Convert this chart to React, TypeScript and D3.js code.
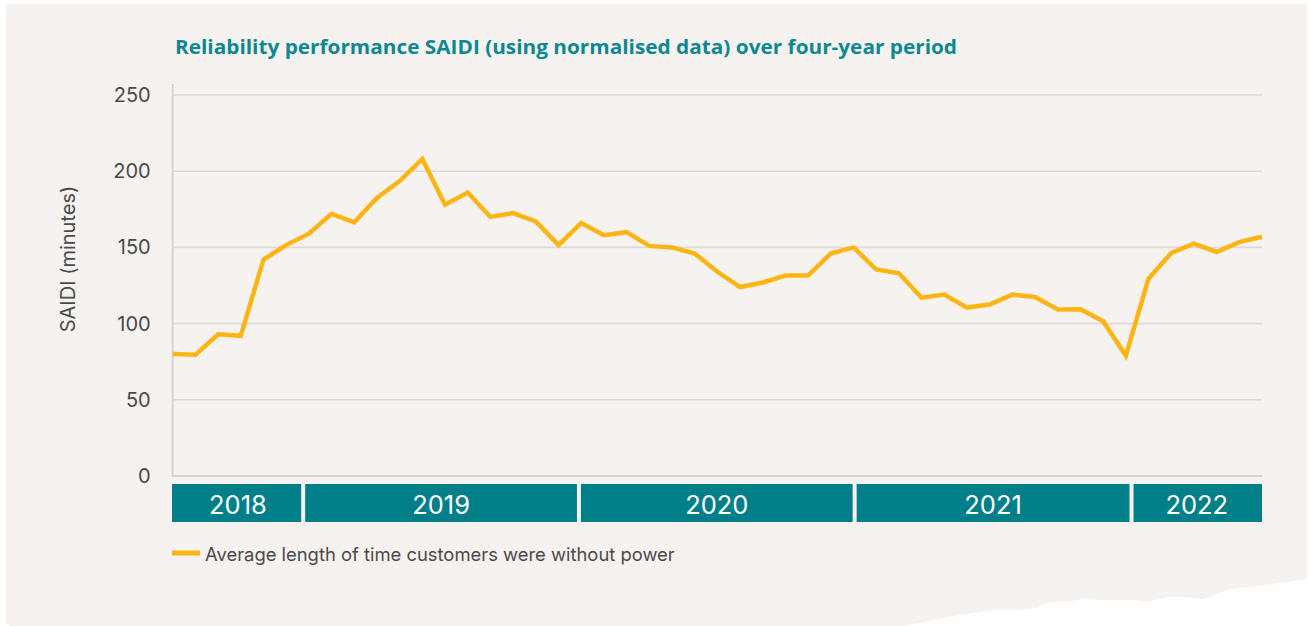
import React, { useRef, useEffect } from 'react';
import { select, scaleLinear, line, axisLeft } from 'd3';

// monthly SAIDI, Jul 2018 .. Jul 2022
const months = [
  'Jul 18', 'Aug 18', 'Sep 18', 'Oct 18', 'Nov 18', 'Dec 18',
  'Jan 19', 'Feb 19', 'Mar 19', 'Apr 19', 'May 19', 'Jun 19', 'Jul 19', 'Aug 19', 'Sep 19', 'Oct 19', 'Nov 19', 'Dec 19',
  'Jan 20', 'Feb 20', 'Mar 20', 'Apr 20', 'May 20', 'Jun 20', 'Jul 20', 'Aug 20', 'Sep 20', 'Oct 20', 'Nov 20', 'Dec 20',
  'Jan 21', 'Feb 21', 'Mar 21', 'Apr 21', 'May 21', 'Jun 21', 'Jul 21', 'Aug 21', 'Sep 21', 'Oct 21', 'Nov 21', 'Dec 21',
  'Jan 22', 'Feb 22', 'Mar 22', 'Apr 22', 'May 22', 'Jun 22', 'Jul 22',
];

const saidi = [
  80, 79.5, 93, 92, 142, 151.5,
  159, 172, 166.5, 182.5, 193.5, 208, 178, 186, 170, 172.5, 167, 151.5,
  166, 158, 160, 151, 150, 146, 134, 124, 127, 131.5, 131.5, 146,
  150, 135.5, 133, 117, 119, 110.5, 112.5, 119, 117.5, 109.2, 109.4, 101.5,
  79, 129.5, 146.3, 152.5, 147, 153.5, 157,
];

const yTicks = [0, 50, 100, 150, 200, 250];

const years = ['2018', '2019', '2020', '2021', '2022'];
// where each year band starts/ends, in month steps along the x axis
const yearBreaks = [0, 5.75, 17.9, 30.05, 42.25, 48];

const W = 1309;
const H = 626;

function App() {
  const svgRef = useRef<SVGSVGElement>(null);

  useEffect(() => {
    const svg = select(svgRef.current);
    svg.selectAll('*').remove();

    const left = 172.7;
    const right = 1262;
    const top = 95;
    const bottom = 476;

    const xScale = scaleLinear().domain([0, months.length - 1]).range([left, right]);
    const yScale = scaleLinear().domain([0, 250]).range([bottom, top]);

    // card + torn bottom edge
    svg.append('rect').attr('width', W).attr('height', H).attr('fill', '#ffffff');
    svg
      .append('path')
      .attr('d', 'M6,4 H1307 V626 H12 Q6,626 6,620 Z')
      .attr('fill', '#f6f2ef');
    svg
      .append('path')
      .attr(
        'd',
        'M900,627 L943,618 L990,610 L1017,610 L1037,608 L1043,604 L1053,602 L1067,602 L1087,598 L1097,600 L1133,600 L1147,602 L1167,597 L1183,597 L1203,599 L1230,589 L1267,585 L1300,580 L1309,579 L1309,627 Z'
      )
      .attr('fill', '#ffffff');

    // title
    svg
      .append('text')
      .attr('x', 175)
      .attr('y', 54)
      .attr('font-family', '"Open Sans", sans-serif')
      .attr('font-weight', 700)
      .attr('font-size', 20)
      .attr('textLength', 782)
      .attr('lengthAdjust', 'spacingAndGlyphs')
      .attr('fill', '#0b8891')
      .text('Reliability performance SAIDI (using normalised data) over four-year period');

    // gridlines
    svg
      .append('g')
      .selectAll('line')
      .data(yTicks)
      .join('line')
      .attr('x1', left)
      .attr('x2', right)
      .attr('y1', (d) => yScale(d))
      .attr('y2', (d) => yScale(d))
      .attr('stroke', '#dcdad8')
      .attr('stroke-width', 1.6);

    // y axis
    const yAxis = axisLeft(yScale).tickValues(yTicks).tickSize(0).tickPadding(22);
    const gy = svg.append('g').attr('transform', `translate(${left},0)`).call(yAxis);
    gy.select('.domain').remove();
    gy.selectAll('text')
      .attr('font-family', 'Inter, sans-serif')
      .attr('font-size', 20)
      .attr('fill', '#4a4a4a');

    svg
      .append('line')
      .attr('x1', left)
      .attr('x2', left)
      .attr('y1', 84)
      .attr('y2', bottom + 1)
      .attr('stroke', '#d6d4d2')
      .attr('stroke-width', 2);
    svg
      .append('line')
      .attr('x1', left)
      .attr('x2', right)
      .attr('y1', bottom)
      .attr('y2', bottom)
      .attr('stroke', '#d6d4d2')
      .attr('stroke-width', 2);

    svg
      .append('text')
      .attr('transform', 'translate(68,259) rotate(-90)')
      .attr('text-anchor', 'middle')
      .attr('dominant-baseline', 'central')
      .attr('font-family', 'Inter, sans-serif')
      .attr('font-size', 20)
      .attr('fill', '#4a4a4a')
      .text('SAIDI (minutes)');

    // year bands
    const bands = svg
      .append('g')
      .selectAll('g')
      .data(years)
      .join('g');
    bands
      .append('rect')
      .attr('x', (d, i) => (i === 0 ? left - 0.7 : xScale(yearBreaks[i]) + 2))
      .attr('width', (d, i) => {
        const x0 = i === 0 ? left - 0.7 : xScale(yearBreaks[i]) + 2;
        const x1 = i === years.length - 1 ? right : xScale(yearBreaks[i + 1]) - 2;
        return x1 - x0;
      })
      .attr('y', 484)
      .attr('height', 38)
      .attr('fill', '#007f89');
    bands
      .append('text')
      .attr('x', (d, i) => (xScale(yearBreaks[i]) + xScale(yearBreaks[i + 1])) / 2)
      .attr('y', 504)
      .attr('text-anchor', 'middle')
      .attr('dominant-baseline', 'central')
      .attr('font-family', 'Inter, sans-serif')
      .attr('font-size', 25.5)
      .attr('fill', '#ffffff')
      .text((d) => d);

    // the line
    const path = line<number>()
      .x((d, i) => xScale(i))
      .y((d) => yScale(d));
    svg
      .append('path')
      .datum(saidi)
      .attr('d', path)
      .attr('fill', 'none')
      .attr('stroke', '#fdb515')
      .attr('stroke-width', 4.5)
      .attr('stroke-linejoin', 'miter');

    // legend
    svg
      .append('line')
      .attr('x1', 172)
      .attr('x2', 200)
      .attr('y1', 553)
      .attr('y2', 553)
      .attr('stroke', '#fdb515')
      .attr('stroke-width', 5);
    svg
      .append('text')
      .attr('x', 205)
      .attr('y', 554)
      .attr('dominant-baseline', 'central')
      .attr('font-family', 'Inter, sans-serif')
      .attr('font-size', 18.4)
      .attr('fill', '#4a4a4a')
      .text('Average length of time customers were without power');
  }, []);

  return (
    <div style={{ position: 'absolute', left: 0, top: 0 }}>
      <svg ref={svgRef} width={W} height={H} style={{ display: 'block' }} />
    </div>
  );
}

export default App;
